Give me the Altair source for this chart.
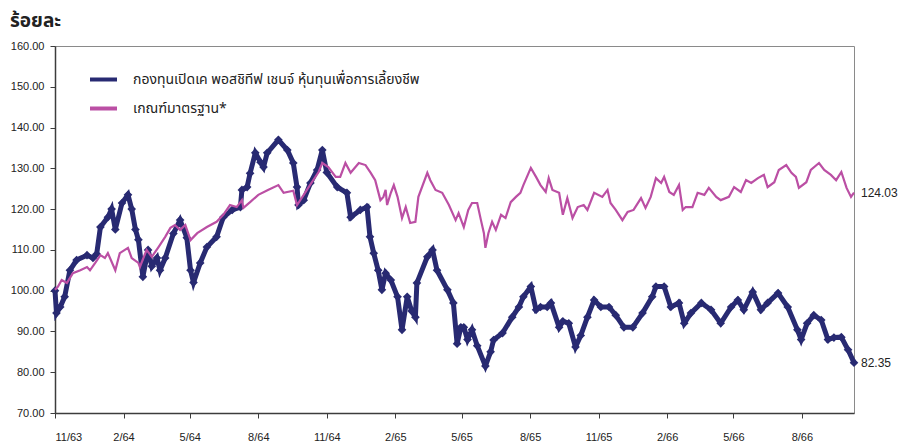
import altair as alt
import pandas as pd

FUND = "กองทุนเปิดเค พอสชิทีฟ เชนจ์ หุ้นทุนเพื่อการเลี้ยงชีพ"
BENCH = "เกณฑ์มาตรฐาน*"
START = "2020-11-01"

fund_days = [0, 2, 7, 13, 20, 29, 43, 51, 56, 61,
             71, 76, 81, 90, 98, 103, 108, 112, 118, 125,
             130, 137, 141, 148, 159, 168, 177, 182, 186, 195,
             204, 217, 226, 238, 249, 251, 258, 262, 269, 276,
             280, 285, 300, 312, 320, 325, 327, 334, 343, 352,
             359, 365, 379, 392, 397, 410, 419, 423, 428, 434,
             439, 444, 451, 460, 466, 473, 479, 484, 486, 500,
             507, 513, 527, 535, 540, 545, 549, 554, 560, 567,
             578, 585, 589, 601, 614, 623, 629, 639, 646, 652,
             661, 666, 677, 682, 690, 699, 706, 715, 724, 733,
             744, 753, 764, 776, 789, 802, 807, 818, 827, 838,
             845, 854, 868, 881, 894, 908, 917, 925, 937, 948,
             957, 971, 984, 997, 1002, 1010, 1019, 1029, 1038, 1046,
             1056, 1065, 1073]
fund_vals = [100, 94.5, 96, 98.5, 105, 107.5, 108.7, 108, 109, 115.6,
             118, 120, 115, 121.5, 123.5, 120, 115, 112.5, 103.4, 110,
             106, 108, 105, 108, 114, 117.3, 113, 105, 102, 106.8,
             110.7, 113.2, 118, 119.8, 120.5, 124.7, 125.4, 128.8, 133.8, 131.5,
             130.3, 133.8, 137, 134.5, 131.3, 125.4, 121, 122.2, 126.4, 129.6,
             134.5, 129, 125.4, 124, 118, 119.8, 120.5, 113.2, 109.2, 105,
             100.2, 104.3, 102.6, 98.5, 90.4, 98.5, 95, 93.5, 101.9, 108.3,
             110, 105, 100.2, 97, 87, 91, 91, 88, 90.4, 86.5,
             81.5, 85, 87.9, 89.6, 93.5, 96, 98.5, 101, 95.3, 96,
             96, 97, 91, 92.5, 92, 86.2, 89, 93.5, 97.7, 96,
             96, 94, 91, 91, 94.5, 98.5, 101, 101, 96, 97,
             92, 94.5, 97, 95.3, 92, 96, 97.7, 95.3, 99.7, 95.3,
             97, 99.4, 96, 90.4, 88, 92, 94, 92.8, 88, 88.5,
             88.6, 85.5, 82.35]

bench_days = [0, 4, 9, 16, 24, 34, 43, 47, 54, 61,
              67, 71, 81, 87, 98, 103, 112, 114, 123, 130,
              139, 148, 155, 161, 168, 175, 182, 191, 204, 217,
              226, 235, 244, 251, 253, 262, 273, 286, 300, 307,
              320, 325, 334, 340, 354, 359, 367, 377, 383, 390,
              397, 408, 417, 424, 430, 437, 441, 444, 446, 451,
              455, 460, 466, 471, 477, 484, 488, 500, 504, 511,
              520, 529, 538, 542, 549, 555, 560, 567, 572, 576,
              578, 582, 587, 592, 599, 605, 612, 619, 625, 629,
              639, 646, 652, 659, 663, 668, 677, 682, 688, 695,
              702, 710, 715, 724, 735, 742, 746, 753, 762, 769,
              777, 787, 793, 800, 807, 814, 818, 825, 831, 838,
              843, 847, 856, 863, 872, 878, 888, 894, 905, 912,
              921, 928, 935, 944, 952, 957, 966, 972, 982, 989,
              995, 999, 1009, 1015, 1026, 1033, 1042, 1049, 1056, 1063,
              1069, 1073]
bench_vals = [100.2, 101, 102.6, 101.9, 104.3, 105, 105.8, 105, 106.8, 108.7,
              108, 109.2, 105, 109.2, 110.5, 108, 106.8, 105.8, 110, 108.3,
              110.7, 113.2, 115.4, 116.1, 114.9, 116.1, 112.4, 114.1, 115.6, 116.9,
              118.6, 121, 120.5, 122.2, 120.3, 121.7, 123.5, 124.7, 125.9, 124,
              124.5, 121, 123.5, 125.2, 129.1, 131.3, 130.3, 127.9, 127.9, 131.3,
              128.9, 131.3, 130.8, 128.9, 127.1, 122.2, 123, 124.7, 121, 124,
              125.9, 123, 117.8, 120.5, 116.6, 116.9, 123, 128.9, 127.1, 124.7,
              124, 121, 117.3, 119, 115.6, 119.8, 121.5, 121.5, 117.3, 114.1,
              110.5, 114.1, 116.9, 114.9, 118.6, 117.8, 121.7, 123, 124, 125.9,
              130.1, 127.9, 125.9, 124.2, 127.6, 124.7, 124, 118.6, 122.7, 117.8,
              120.5, 121, 119.8, 124, 123, 124.7, 121.5, 119.8, 117.3, 119.3,
              119.8, 122.7, 120.3, 123, 127.6, 126.4, 127.9, 124.2, 123.5, 125.9,
              119.8, 120.5, 120.5, 124, 123.5, 125.2, 123, 122.2, 123, 125.4,
              124.2, 127.1, 126.4, 127.6, 128.4, 125.4, 126.6, 129.6, 130.8, 128.9,
              127.9, 125.2, 126.6, 129.6, 131.3, 129.6, 128.4, 127.1, 129.1, 125.2,
              123, 124.03]

tick_dates = ["2020-11-01", "2021-02-01", "2021-05-01", "2021-08-01",
              "2021-11-01", "2022-02-01", "2022-05-01", "2022-08-01",
              "2022-11-01", "2023-02-01", "2023-05-01", "2023-08-01"]
tick_labels = ["11/63", "2/64", "5/64", "8/64", "11/64", "2/65",
               "5/65", "8/65", "11/65", "2/66", "5/66", "8/66"]

NAVY = "#282a72"
MAGENTA = "#bb4fa4"
THAI_FONT = "Noto Sans Thai, Tahoma, Noto Sans, sans-serif"

start = pd.Timestamp(START)
fund = pd.DataFrame({
    "date": [(start + pd.Timedelta(days=d)).strftime("%Y-%m-%d") for d in fund_days],
    "value": fund_vals, "series": FUND})
bench = pd.DataFrame({
    "date": [(start + pd.Timedelta(days=d)).strftime("%Y-%m-%d") for d in bench_days],
    "value": bench_vals, "series": BENCH})
ends = pd.concat([fund.tail(1), bench.tail(1)])
ends["label"] = ends["value"].map(lambda v: f"{v:.2f}")

end_date = (start + pd.Timedelta(days=1073)).strftime("%Y-%m-%d")

tick_expr = ("[" + ",".join(f"'{t}'" for t in tick_labels) + "][indexof(["
             + ",".join(f"'{d}'" for d in tick_dates)
             + "], timeFormat(datum.value, '%Y-%m-%d'))]")

x = alt.X("date:T",
          scale=alt.Scale(domain=[START, end_date], nice=False),
          axis=alt.Axis(values=[alt.DateTime(year=int(d[:4]), month=int(d[5:7]), date=1) for d in tick_dates],
                        labelExpr=tick_expr, title=None, tickSize=5,
                        labelPadding=13, labelFontSize=11))
y = alt.Y("value:Q",
          scale=alt.Scale(domain=[70, 160], nice=False, zero=False),
          axis=alt.Axis(values=list(range(70, 161, 10)), format=".2f", title=None,
                        tickSize=5, labelPadding=6, labelFontSize=11))
color = alt.Color("series:N",
                  scale=alt.Scale(domain=[FUND, BENCH], range=[NAVY, MAGENTA]),
                  legend=alt.Legend(title=None, orient="none", legendX=33, legendY=18,
                                    symbolType="stroke", symbolSize=729,
                                    symbolStrokeWidth=4, labelFontSize=14,
                                    labelFont=THAI_FONT, labelColor="#222222",
                                    labelOffset=14, rowPadding=5, padding=0,
                                    labelLimit=600))

fund_line = alt.Chart(fund).mark_line(strokeWidth=5).encode(x=x, y=y, color=color)
fund_pts = alt.Chart(fund).mark_point(shape="diamond", filled=True, size=75, opacity=1).encode(
    x=x, y=y, color=color)
bench_line = alt.Chart(bench).mark_line(strokeWidth=2.2).encode(x=x, y=y, color=color)
labels = alt.Chart(ends).mark_text(align="left", baseline="middle", dx=7, fontSize=12,
                                   font="Liberation Sans", color="#222222").encode(
    x=x, y=y, text="label:N")

chart = alt.layer(fund_line, fund_pts, bench_line, labels).properties(
    width=799, height=367,
    autosize=alt.AutoSizeParams(type="none"),
    padding={"left": 47, "top": 38, "right": 44, "bottom": 28},
    title=alt.TitleParams("ร้อยละ", anchor="start", frame="group", dx=-45, offset=9,
                          fontSize=19, fontWeight="bold", font=THAI_FONT, color="#222222"),
).configure_view(stroke="#8a8a8a", strokeWidth=1).configure_axis(
    domainColor="#3c3c3c", tickColor="#3c3c3c", domainWidth=1.5, grid=False,
    labelColor="#222222", labelFont="Liberation Sans Narrow, Liberation Sans, sans-serif",
)

chart.save("out.html", embed_options={"renderer": "svg", "actions": False})
